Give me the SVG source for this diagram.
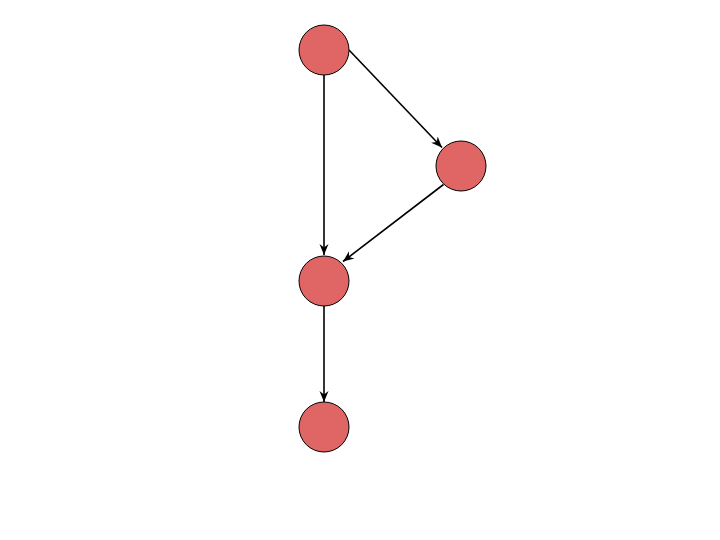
<svg xmlns="http://www.w3.org/2000/svg" width="720" height="540" viewBox="0 0 720 540">
<style>
.node{fill:#e06666;stroke:#000;stroke-width:1}
.edge{stroke:#000;stroke-width:1.6;fill:none}
</style>
<defs>
<marker id="arr" markerUnits="userSpaceOnUse" markerWidth="12" markerHeight="10" refX="11" refY="4.5" orient="auto" viewBox="0 0 12 9">
<path d="M0,0 L11,4.5 L0,9 L3.5,4.5 Z" fill="#000"/>
</marker>
</defs>
<rect width="720" height="540" fill="#fff"/>
<g id="connectors">
<line class="edge" x1="324" y1="75" x2="324" y2="255" marker-end="url(#arr)"/>
<line class="edge" x1="349" y1="50" x2="442" y2="147.5" marker-end="url(#arr)"/>
<line class="edge" x1="443.5" y1="184.5" x2="343" y2="261.5" marker-end="url(#arr)"/>
<line class="edge" x1="324" y1="306" x2="324" y2="402" marker-end="url(#arr)"/>
</g>
<g id="n1"><circle class="node" cx="324" cy="50" r="25"/></g>
<g id="n2"><circle class="node" cx="461" cy="166" r="25"/></g>
<g id="n3"><circle class="node" cx="324" cy="281" r="25"/></g>
<g id="n4"><circle class="node" cx="324" cy="427" r="25"/></g>
</svg>
